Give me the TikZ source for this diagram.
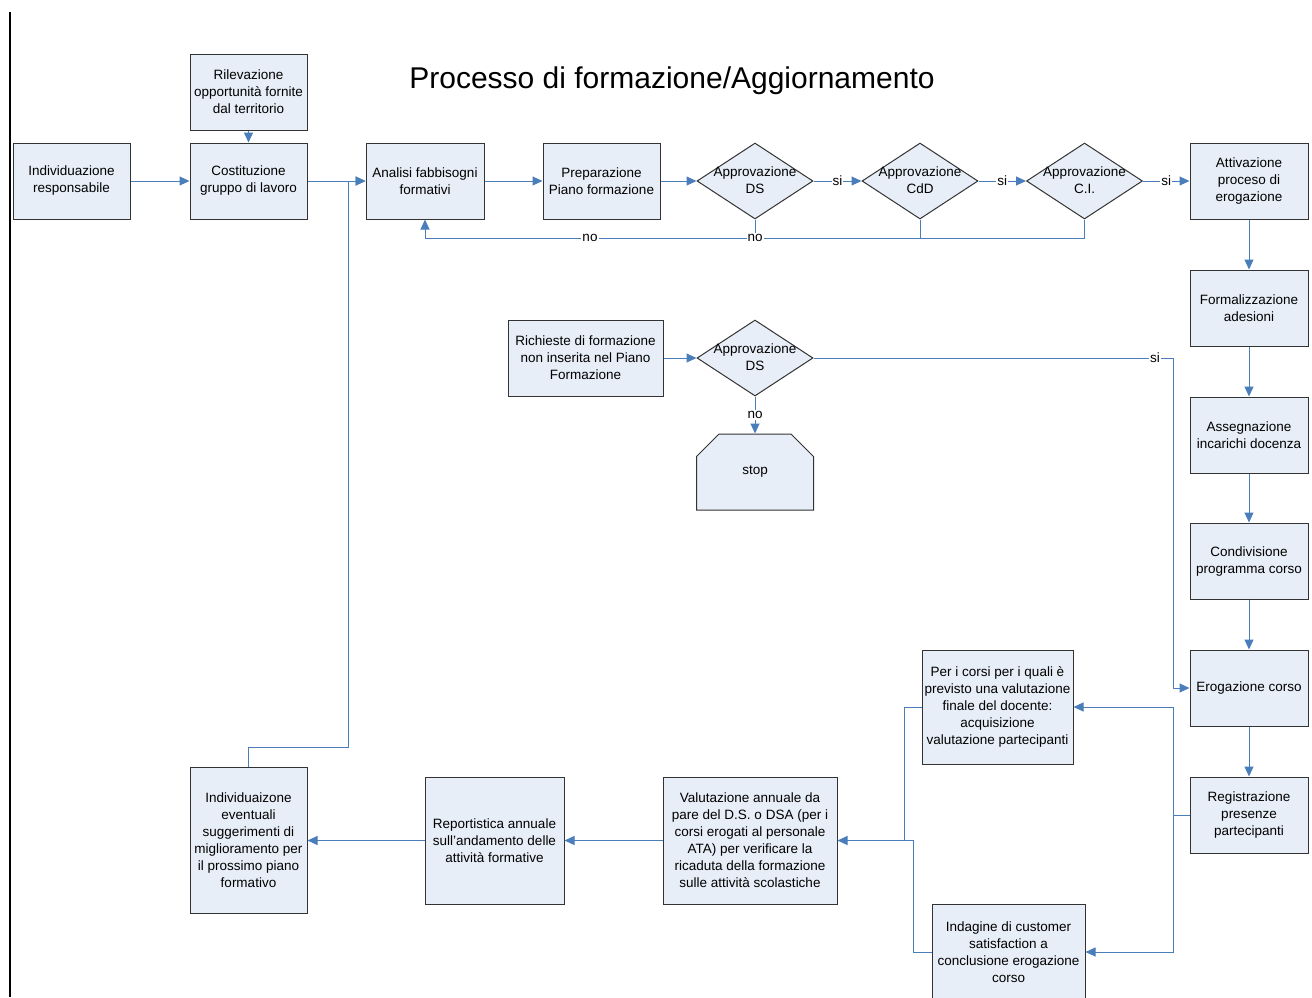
\documentclass[tikz,border=0pt]{standalone}
\usepackage{fontspec}
\setmainfont{Liberation Sans}
\usepackage{xcolor}
\usetikzlibrary{shapes.geometric,shapes.misc,arrows.meta,positioning}
\definecolor{boxfill}{HTML}{E8EEF7}
\definecolor{conn}{HTML}{4A7EBB}
\newcommand{\boxfont}{\fontsize{13.5}{17}\selectfont}
\tikzset{box/.style={rectangle,draw=black!80,fill=boxfill,line width=1pt,minimum width=117pt,minimum height=76pt,inner sep=2pt,align=center,font=\boxfont}}
\tikzset{dec/.style={diamond,draw=black!80,fill=boxfill,line width=1pt,minimum width=116pt,minimum height=76pt,inner sep=0pt}}
\tikzset{dectext/.style={align=center,font=\boxfont,inner sep=0pt,yshift=0.5pt}}
\tikzset{lab/.style={fill=white,inner sep=1pt,font=\boxfont}}
\tikzset{conn/.style={draw=conn,line width=1pt}}

\begin{document}
\begin{tikzpicture}[x=1pt,y=-1pt,>={Triangle[length=10pt,width=9pt]}]
    \useasboundingbox (0,0) rectangle (1312,997);
    \draw [line width=2pt] (10,12) -- (10,997);
    \node[font=\fontsize{30}{35}\selectfont] (title) at (672,81) {Processo di formazione/Aggiornamento};

    \node[box] (resp) at (71.5,181) {Individuazione\\responsabile};
    \node[box] (ril) at (248.5,92) {Rilevazione\\opportunità fornite\\dal territorio};
    \node[box] (cost) at (248.5,181) {Costituzione\\gruppo di lavoro};
    \node[box,minimum width=118pt] (an) at (425,181) {Analisi fabbisogni\\formativi};
    \node[box] (prep) at (601.5,181) {Preparazione\\Piano formazione};
    \node[dec,label={[dectext]center:Approvazione\\DS}] (ds) at (755,181) {};
    \node[dec,label={[dectext]center:Approvazione\\CdD}] (cdd) at (920,181) {};
    \node[dec,label={[dectext]center:Approvazione\\C.I.}] (ci) at (1084.5,181) {};
    \node[box,minimum width=118pt] (att) at (1249,181) {Attivazione\\proceso di\\erogazione};
    \node[box,minimum width=118pt] (form) at (1249,308) {Formalizzazione\\adesioni};
    \node[box,minimum width=118pt] (ass) at (1249,435) {Assegnazione\\incarichi docenza};
    \node[box,minimum width=118pt] (cond) at (1249,561) {Condivisione\\programma corso};
    \node[box,minimum width=118pt] (ero) at (1249,688) {Erogazione corso};
    \node[box,minimum width=118pt] (reg) at (1249,815) {Registrazione\\presenze\\partecipanti};
    \node[box,minimum width=155pt] (ric) at (585.5,358) {Richieste di formazione\\non inserita nel Piano\\Formazione};
    \node[dec,label={[dectext]center:Approvazione\\DS}] (ds2) at (755,358) {};
    \node[box,chamfered rectangle,chamfered rectangle corners={north west,north east},chamfered rectangle xsep=17pt,chamfered rectangle ysep=20pt,minimum width=117pt,minimum height=76pt] (stop) at (755,472) {stop};
    \node[box,minimum width=151pt,minimum height=114pt] (per) at (997.5,707) {Per i corsi per i quali è\\previsto una valutazione\\finale del docente:\\acquisizione\\valutazione partecipanti};
    \node[box,minimum width=153pt,minimum height=96pt] (ind) at (1008.5,952) {Indagine di customer\\satisfaction a\\conclusione erogazione\\corso};
    \node[box,minimum width=174pt,minimum height=127pt] (val) at (750,840.5) {Valutazione annuale da\\pare del D.S. o DSA (per i\\corsi erogati al personale\\ATA) per verificare la\\ricaduta della formazione\\sulle attività scolastiche};
    \node[box,minimum width=139pt,minimum height=127pt] (rep) at (494.5,840.5) {Reportistica annuale\\sull’andamento delle\\attività formative};
    \node[box,minimum height=146pt] (sug) at (248.5,840.5) {Individuaizone\\eventuali\\suggerimenti di\\miglioramento per\\il prossimo piano\\formativo};

    \coordinate (nojoin) at (755,238);
    \coordinate (fb) at (348,747);
    \coordinate (sijoin) at (1173,358);
    \coordinate (regjoin) at (1173,815);
    \coordinate (perjoin) at (904,840.5);
    \coordinate (indjoin) at (913,840.5);

    \draw [conn,->] (resp) to (cost);
    \draw [conn,->] (ril) to (cost);
    \draw [conn,->] (cost) to (an);
    \draw [conn,->] (sug.north) |- (fb) |- (an.west);
    \draw [conn,->] (an) to (prep);
    \draw [conn,->] (prep) to (ds);
    \draw [conn,->] (ds) to node[lab]{si} (cdd);
    \draw [conn,->] (cdd) to node[lab]{si} (ci);
    \draw [conn,->] (ci) to node[lab]{si} (att);
    \draw [conn] (cdd.south) |- (nojoin);
    \draw [conn] (ci.south) |- (cdd.south |- nojoin);
    \draw [conn,->] (ds.south) -- (nojoin) node[lab]{no} -| node[lab,pos=0.25]{no} (an.south);
    \draw [conn,->] (att) to (form);
    \draw [conn,->] (form) to (ass);
    \draw [conn,->] (ass) to (cond);
    \draw [conn,->] (cond) to (ero);
    \draw [conn,->] (ero) to (reg);
    \draw [conn,->] (ric) to (ds2);
    \draw [conn,->] (ds2.south) to node[lab]{no} (stop.north);
    \draw [conn,->] (ds2.east) -- node[lab,pos=0.95]{si} (sijoin) |- (ero.west);
    \draw [conn] (reg.west) -- (regjoin);
    \draw [conn,->] (regjoin) |- (per.east);
    \draw [conn,->] (regjoin) |- (ind.east);
    \draw [conn,->] (per.west) -| (perjoin) -- (val.east);
    \draw [conn] (ind.west) -| (indjoin) -- (perjoin);
    \draw [conn,->] (val) to (rep);
    \draw [conn,->] (rep) to (sug);
\end{tikzpicture}
\end{document}
